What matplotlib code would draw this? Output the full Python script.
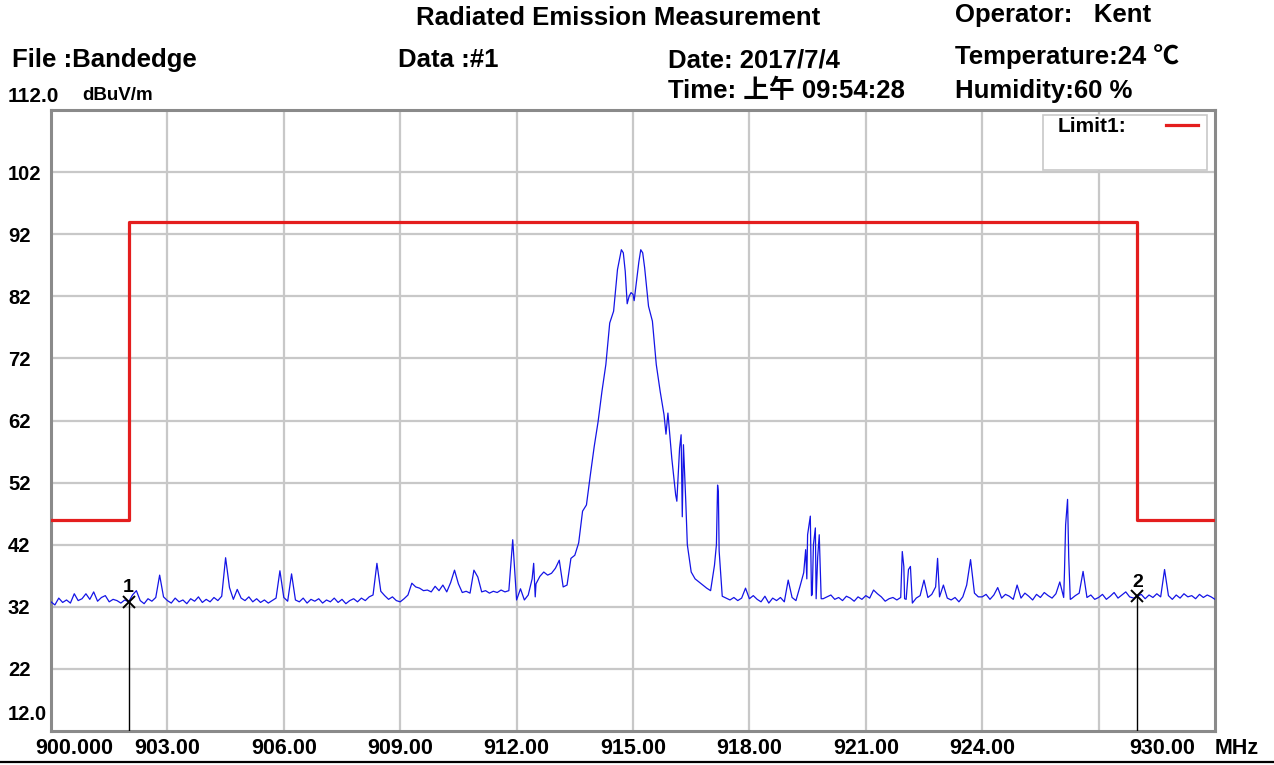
import numpy as np
import matplotlib
matplotlib.use('Agg')
import matplotlib.pyplot as plt

# sweep 900..930 MHz, one reading every 0.1 MHz (dBuV/m)
level_dbuv = [
    32.8, 32.3, 33.4, 32.7, 33.1, 32.6, 34.1, 33.0, 33.3, 34.1,   # 900
    33.2, 34.4, 32.9, 33.5, 33.8, 32.8, 33.2, 33.0, 32.6, 33.1,   # 901
    32.8, 33.9, 34.6, 33.0, 32.5, 33.3, 32.9, 33.5, 37.1, 33.6,   # 902
    33.0, 32.6, 33.4, 32.8, 33.1, 32.5, 33.3, 32.9, 33.6, 32.7,   # 903
    33.2, 32.8, 33.5, 33.0, 33.7, 39.9, 35.1, 33.2, 34.8, 33.4,   # 904
    33.0, 33.6, 32.8, 33.3, 32.7, 33.1, 32.6, 33.0, 33.4, 37.8,   # 905
    33.5, 32.9, 37.3, 33.1, 32.8, 33.4, 32.6, 33.2, 32.9, 33.3,   # 906
    32.6, 33.1, 32.8, 33.4, 32.7, 33.2, 32.5, 33.0, 33.3, 32.8,   # 907
    33.4, 33.0, 33.6, 33.9, 39.0, 34.5, 33.8, 33.2, 33.6, 33.0,   # 908
    32.8, 33.3, 33.9, 35.8, 35.2, 35.0, 34.6, 34.7, 34.4, 35.3,   # 909
    34.6, 35.5, 34.4, 35.9, 37.9, 35.7, 34.3, 34.5, 34.2, 37.9,   # 910
    36.8, 34.4, 34.6, 34.2, 34.5, 34.3, 34.7, 34.4, 34.6, 42.8,   # 911
    33.1, 34.9, 33.1, 33.9, 36.5, 35.7, 36.9, 37.6, 37.1, 37.4,   # 912
    38.2, 39.5, 35.2, 35.5, 39.8, 40.3, 42.3, 47.4, 48.4, 53.2,   # 913
    57.8, 61.8, 66.7, 71.0, 77.7, 79.6, 86.3, 89.5, 86.0, 82.0,   # 914
    82.3, 85.0, 89.5, 86.6, 80.4, 78.0, 71.0, 66.7, 62.9, 63.2,   # 915
    55.9, 50.0, 57.5, 58.1, 42.0, 37.6, 36.5, 36.0, 35.5, 35.0,   # 916
    34.6, 38.7, 50.5, 33.7, 33.4, 33.1, 33.5, 33.0, 33.4, 35.0,   # 917
    33.3, 33.8, 33.2, 32.8, 33.7, 32.6, 33.4, 33.0, 33.5, 32.8,   # 918
    36.3, 33.5, 33.0, 35.2, 37.5, 43.6, 33.8, 44.7, 43.6, 33.3,   # 919
    33.6, 33.9, 33.2, 33.5, 33.0, 33.7, 33.4, 32.9, 33.6, 33.2,   # 920
    33.8, 33.4, 34.7, 34.1, 33.6, 32.9, 33.3, 33.5, 33.1, 33.5,   # 921
    33.3, 38.0, 32.6, 33.4, 33.8, 36.3, 33.5, 34.0, 35.2, 33.6,   # 922
    35.5, 33.4, 33.1, 33.5, 32.8, 33.6, 35.5, 39.6, 34.2, 33.6,   # 923
    33.6, 34.0, 33.2, 33.9, 35.1, 33.4, 34.0, 33.7, 33.2, 35.5,   # 924
    33.4, 34.2, 33.7, 33.1, 34.0, 33.5, 34.3, 33.8, 33.4, 34.1,   # 925
    36.0, 33.5, 49.3, 33.3, 33.8, 34.2, 37.7, 33.5, 33.9, 33.2,   # 926
    33.5, 34.0, 33.2, 33.7, 34.3, 33.4, 33.9, 34.4, 33.6, 33.4,   # 927
    33.7, 34.0, 33.3, 33.9, 33.5, 34.1, 33.6, 38.0, 33.8, 33.2,   # 928
    33.9, 33.4, 34.1, 33.6, 33.8, 33.3, 34.0, 33.5, 33.9, 33.6,   # 929
    33.2,                                                         # 930
]

# extra readings on the narrow spikes and the carrier top
extra_mhz = [912.44, 912.48,
             914.75, 914.85, 914.95, 915.03, 915.15, 915.25, 915.35,
             915.85, 916.13, 916.24, 916.27, 916.36,
             917.15, 917.18, 917.22,
             919.45, 919.48, 919.57, 919.62, 919.65, 919.72, 919.76, 919.85,
             921.94, 921.98, 922.04, 922.15, 922.85,
             926.12, 926.15, 926.23, 926.27]
extra_dbuv = [39.0, 33.6,
              89.0, 80.8, 82.6, 81.3, 87.5, 89.0, 83.5,
              59.8, 49.0, 59.7, 46.5, 49.0,
              42.0, 51.6, 41.0,
              41.2, 36.5, 46.6, 34.0, 42.0, 33.3, 40.0, 33.3,
              40.9, 38.5, 33.2, 38.5, 39.8,
              37.5, 45.2, 40.0, 33.2]

limit_mhz = [900, 902, 902, 928, 928, 930]
limit_dbuv = [46, 46, 94, 94, 46, 46]

marker_mhz = [902.0, 928.0]
marker_dbuv = [32.8, 33.7]
marker_names = ['1', '2']

ytick_vals = [22, 32, 42, 52, 62, 72, 82, 92, 102]
xtick_vals = [903, 906, 909, 912, 915, 918, 921, 924, 927]
xtick_text = ['903.00', '906.00', '909.00', '912.00', '915.00',
              '918.00', '921.00', '924.00', '']

FONT = ['Liberation Sans', 'Noto Sans CJK SC', 'DejaVu Sans']
W, H = 1274, 765
AX_X0, AX_W, AX_H = 51, 1164, 621
TICK_PT = 15.5

fig = plt.figure(figsize=(W / 100, H / 100), dpi=100)
ax = fig.add_axes([AX_X0 / W, 1 - 731 / H, AX_W / W, AX_H / H])

freq = np.concatenate([np.linspace(900, 930, len(level_dbuv)), extra_mhz])
level = np.concatenate([level_dbuv, extra_dbuv])
order = np.argsort(freq, kind='stable')

ax.plot(limit_mhz, limit_dbuv, color='#e41e1e', lw=2.3, zorder=3)
ax.plot(freq[order], level[order], color='#1414e6', lw=0.9, zorder=4)

for f, v, name in zip(marker_mhz, marker_dbuv, marker_names):
    ax.plot([f, f], [12, v], color='black', lw=1.0, zorder=5)
    ax.plot(f, v, marker='x', ms=8, mew=1.4, color='black', zorder=6)
    ax.text(f, v + 0.9, name, ha='center', va='bottom', fontsize=14,
            family=FONT, fontweight='bold', zorder=6)

ax.set_xlim(900, 930)
ax.set_ylim(12, 112)
ax.set_xticks(xtick_vals)
ax.set_xticklabels(xtick_text, family=FONT, fontsize=TICK_PT, fontweight='bold')
ax.set_yticks(ytick_vals)
ax.set_yticklabels([str(v) for v in ytick_vals], family=FONT, fontsize=14.5,
                   fontweight='bold', ha='left')
ax.tick_params(axis='both', length=0)
ax.tick_params(axis='y', pad=31)
ax.tick_params(axis='x', pad=5)
ax.grid(True, color='#c8c8c8', lw=1.6)
ax.set_axisbelow(True)
for sp in ax.spines.values():
    sp.set_color('#8a8a8a')
    sp.set_linewidth(2.2)


def px(x):
    # figure pixel column -> axes fraction
    return (x - AX_X0) / AX_W


# x-axis end labels sit off the grid like the analyser printout
lab_y = -(5 * 100 / 72) / AX_H
ax.text(px(35), lab_y, '900.000', transform=ax.transAxes, ha='left',
        va='top', family=FONT, fontsize=TICK_PT, fontweight='bold')
ax.text(px(1162), lab_y, '930.00', transform=ax.transAxes,
        ha='center', va='top', family=FONT, fontsize=TICK_PT, fontweight='bold')
ax.text(px(1215), lab_y, 'MHz', transform=ax.transAxes, ha='left',
        va='top', family=FONT, fontsize=TICK_PT, fontweight='bold')
ax.text(px(8), 16 / AX_H, '12.0', transform=ax.transAxes, ha='left',
        va='center', family=FONT, fontsize=14.5, fontweight='bold')

# legend box
ax.add_patch(plt.Rectangle((px(1043), (731 - 170) / AX_H),
                           164 / AX_W, 55 / AX_H, transform=ax.transAxes,
                           facecolor='white', edgecolor='#c8c8c8', lw=1.2,
                           zorder=7))
ax.text(px(1058), (731 - 127) / AX_H, 'Limit1:',
        transform=ax.transAxes, ha='left', va='center', family=FONT,
        fontsize=15, fontweight='bold', zorder=8)
ax.plot([px(1166), px(1198)], [(731 - 125) / AX_H] * 2,
        transform=ax.transAxes, color='#e41e1e', lw=2.3, zorder=8)


def header(x, y, s, size=18.5):
    fig.text(x / W, 1 - y / H, s, ha='left', va='center', family=FONT,
             fontsize=size, fontweight='bold')


header(416, 18, 'Radiated Emission Measurement')
header(955, 15, 'Operator:   Kent')
header(12, 60, 'File :Bandedge')
header(398, 60, 'Data :#1')
header(668, 60, 'Date: 2017/7/4')
header(955, 57, 'Temperature:24 \u2103')
header(668, 91, 'Time: 上午 09:54:28')
header(955, 91, 'Humidity:60 %')
header(8, 96, '112.0', size=15)
header(82, 96, 'dBuV/m', size=13.5)

fig.add_artist(plt.Line2D([0, 1], [1 - 762 / H] * 2, color='black', lw=1.6))

fig.savefig('out.png', dpi=100)
